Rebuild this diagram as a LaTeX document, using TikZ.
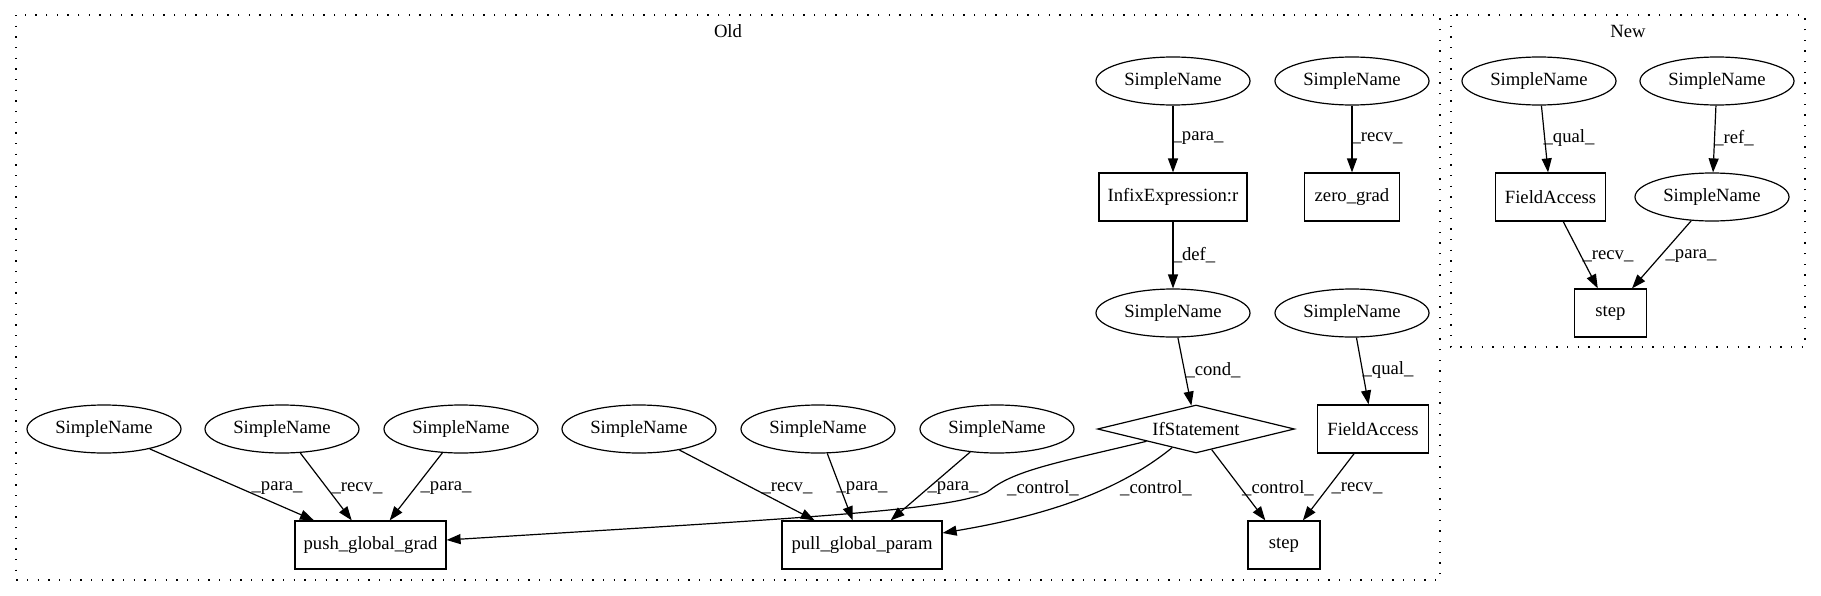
\documentclass[tikz,border=0pt]{standalone}
\usepackage{fontspec}
\setmainfont{Liberation Serif}
\usetikzlibrary{shapes.geometric,arrows.meta}
\begin{document}
\begin{tikzpicture}[x=0.75pt,y=-0.75pt,
  every node/.style={font=\fontsize{14}{16}\selectfont},
  sn/.style={ellipse,draw,line width=0.9pt,minimum width=115.5pt,minimum height=36pt,inner sep=0pt},
  bx/.style={rectangle,draw,line width=0.9pt,minimum height=36pt,inner sep=0pt},
  ifd/.style={diamond,draw,line width=0.9pt,aspect=4,minimum width=147.75pt,minimum height=36pt,inner sep=0pt},
  conn/.style={-{Triangle[length=10.5pt,width=7.5pt]},line width=0.9pt},
  lbl/.style={inner sep=0pt},
  cluster/.style={draw,line width=1pt,dash pattern=on 1pt off 7pt}]
\useasboundingbox (0,0) rectangle (1821,596);
% clusters
\draw[cluster] (16,15) rectangle (1440,580);
\draw[cluster] (1451,15) rectangle (1805,347);
\node[lbl] (oldlbl) at (728,31) {Old};
\node[lbl] (newlbl) at (1628,31) {New};
% Old nodes
\node[sn] (sn1) at (1173,81) {SimpleName};
\node[sn] (sn2) at (1352,81) {SimpleName};
\node[bx,minimum width=111pt] (infix) at (1173,197) {InfixExpression:r};
\node[bx,minimum width=71.25pt] (zero) at (1352,197) {zero\_grad};
\node[sn] (sn3) at (1173,313) {SimpleName};
\node[sn] (sn4) at (1352,313) {SimpleName};
\node[ifd] (ifs) at (1196,429) {IfStatement};
\node[bx,minimum width=83pt] (fa) at (1373,429) {FieldAccess};
\node[sn] (b1) at (104,429) {SimpleName};
\node[sn] (b2) at (282,429) {SimpleName};
\node[sn] (b3) at (461,429) {SimpleName};
\node[sn] (c1) at (639,429) {SimpleName};
\node[sn] (c2) at (818,429) {SimpleName};
\node[sn] (c3) at (997,429) {SimpleName};
\node[bx,minimum width=113.25pt] (push) at (370.5,545) {push\_global\_grad};
\node[bx,minimum width=120pt] (pull) at (862,545) {pull\_global\_param};
\node[bx,minimum width=54pt] (ostep) at (1284,545) {step};
% New nodes
\node[sn] (nsn1) at (1539,81) {SimpleName};
\node[sn] (nsn2) at (1717,81) {SimpleName};
\node[bx,minimum width=83pt] (nfa) at (1550.5,197) {FieldAccess};
\node[sn] (nsn3) at (1712,197) {SimpleName};
\node[bx,minimum width=54pt] (nstep) at (1610.5,313) {step};
% Old edges
\draw[conn] (sn1) -- (infix);
\draw[conn] (sn2) -- (zero);
\draw[conn] (infix) -- (sn3);
\draw[conn] (sn3) -- (ifs);
\draw[conn] (sn4) -- (fa);
\draw[conn] (b1) -- (push);
\draw[conn] (b2) -- (push);
\draw[conn] (b3) -- (push);
\draw[conn] (c1) -- (pull);
\draw[conn] (c2) -- (pull);
\draw[conn] (c3) -- (pull);
\draw[conn] (ifs) -- (ostep);
\draw[conn] (fa) -- (ostep);
\draw[conn] (ifs.south west) .. controls (1060,462) and (1015,470) .. (990,490)
  .. controls (965,510) and (800,518) .. ([yshift=3.75pt]push.east);
\draw[conn] (ifs.218) .. controls (1120,490) and (1050,515) .. ([yshift=9pt]pull.east);
% New edges
\draw[conn] (nsn1) -- (nfa);
\draw[conn] (nsn2) -- (nsn3);
\draw[conn] (nfa) -- (nstep);
\draw[conn] (nsn3) -- (nstep);
% edge labels Old
\node[lbl] (l1) at (1198,138) {\_para\_};
\node[lbl] (l2) at (1377,138) {\_recv\_};
\node[lbl] (l3) at (1194,255) {\_def\_};
\node[lbl] (l4) at (1213,370) {\_cond\_};
\node[lbl] (l5) at (1388,370) {\_qual\_};
\node[lbl] (l6) at (277,488) {\_para\_};
\node[lbl] (l7) at (357,488) {\_recv\_};
\node[lbl] (l8) at (446,488) {\_para\_};
\node[lbl] (l9) at (787,488) {\_recv\_};
\node[lbl] (l10) at (862,488) {\_para\_};
\node[lbl] (l11) at (953,488) {\_para\_};
\node[lbl] (l12) at (1043,488) {\_control\_};
\node[lbl] (l13) at (1156,488) {\_control\_};
\node[lbl] (l14) at (1278,488) {\_control\_};
\node[lbl] (l15) at (1357,488) {\_recv\_};
% edge labels New
\node[lbl] (n1) at (1569,138) {\_qual\_};
\node[lbl] (n2) at (1734,138) {\_ref\_};
\node[lbl] (n3) at (1608,256) {\_recv\_};
\node[lbl] (n4) at (1691,256) {\_para\_};
\end{tikzpicture}
\end{document}
